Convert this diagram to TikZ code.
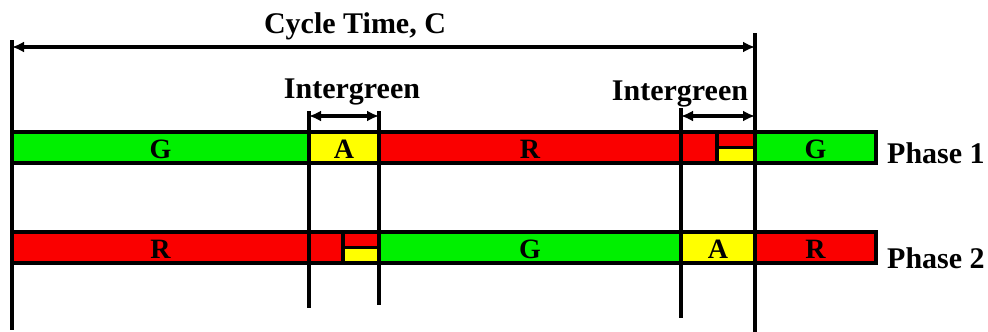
\documentclass[tikz,border=0pt]{standalone}
\usepackage{fontspec}
\setmainfont{Liberation Serif}
\usepackage{xcolor}
\usepackage{tikz}
\usetikzlibrary{positioning, arrows.meta}

\definecolor{barG}{RGB}{0,240,0}
\definecolor{barR}{RGB}{250,0,0}
\definecolor{barA}{RGB}{255,255,0}

\begin{document}
\begin{tikzpicture}[
    x=1pt, y=-1pt,
    seg/.style={rectangle, draw=black, line width=3.5pt, minimum height=31pt,
                inner sep=0pt, outer sep=0pt, text height=22pt, text depth=0pt,
                font=\fontsize{28}{29}\selectfont\bfseries},
    half/.style={rectangle, draw=black, line width=3.5pt, minimum height=15.5pt,
                inner sep=0pt, outer sep=0pt},
    lbl/.style={inner sep=0pt, font=\fontsize{30}{32}\selectfont\bfseries},
    tick/.style={line width=3.5pt},
    dim/.style={{Latex[length=12pt,width=11pt]}-{Latex[length=12pt,width=11pt]}, line width=3.5pt},
]
\useasboundingbox (0,0) rectangle (988,332);

% Phase 1
\node[seg, fill=barG, minimum width=297pt, anchor=west] (p1g) at (12,147.5) {G};
\node[seg, fill=barA, minimum width=70pt, right=0pt of p1g] (p1a) {A};
\node[seg, fill=barR, minimum width=302pt, right=0pt of p1a] (p1r) {R};
\node[seg, fill=barR, minimum width=36pt, right=0pt of p1r] (p1r2) {};
\node[half, fill=barR, minimum width=38pt, anchor=south west] (p1top) at (p1r2.east) {};
\node[half, fill=barA, minimum width=38pt, anchor=north west] (p1bot) at (p1r2.east) {};
\node[seg, fill=barG, minimum width=121pt, anchor=west] (p1g2) at (p1top.south east) {G};

% Phase 2
\node[seg, fill=barR, minimum width=297pt, anchor=west] (p2r) at (12,247.5) {R};
\node[seg, fill=barR, minimum width=34pt, right=0pt of p2r] (p2r2) {};
\node[half, fill=barR, minimum width=36pt, anchor=south west] (p2top) at (p2r2.east) {};
\node[half, fill=barA, minimum width=36pt, anchor=north west] (p2bot) at (p2r2.east) {};
\node[seg, fill=barG, minimum width=302pt, anchor=west] (p2g) at (p2top.south east) {G};
\node[seg, fill=barA, minimum width=74pt, right=0pt of p2g] (p2a) {A};
\node[seg, fill=barR, minimum width=121pt, right=0pt of p2a] (p2r3) {R};

% time marks
\foreach \n/\x/\t/\b in {0/12/40/330, 1/309/111/308, 2/379/111/305, 3/681/108/318, 4/755/33/332}{
    \coordinate (t\n) at (\x,\t);
    \coordinate (b\n) at (\x,\b);
    \draw[tick] (t\n) -- (b\n);
}

\coordinate (cyc0) at (12,47);
\coordinate (cyc1) at (755,47);
\coordinate (ig1a) at (309,116);
\coordinate (ig1b) at (379,116);
\coordinate (ig2a) at (681,116);
\coordinate (ig2b) at (755,116);
\draw[dim] (cyc0) -- (cyc1);
\draw[dim] (ig1a) -- (ig1b);
\draw[dim] (ig2a) -- (ig2b);

\node[lbl, anchor=base] (cycle) at (355,33) {Cycle Time, C};
\node[lbl, anchor=base] (inter1) at (352,98) {Intergreen};
\node[lbl, anchor=base] (inter2) at (680,100) {Intergreen};
\node[lbl, anchor=base west] (ph1) at (887,163) {Phase 1};
\node[lbl, anchor=base west] (ph2) at (887,268) {Phase 2};
\end{tikzpicture}
\end{document}
